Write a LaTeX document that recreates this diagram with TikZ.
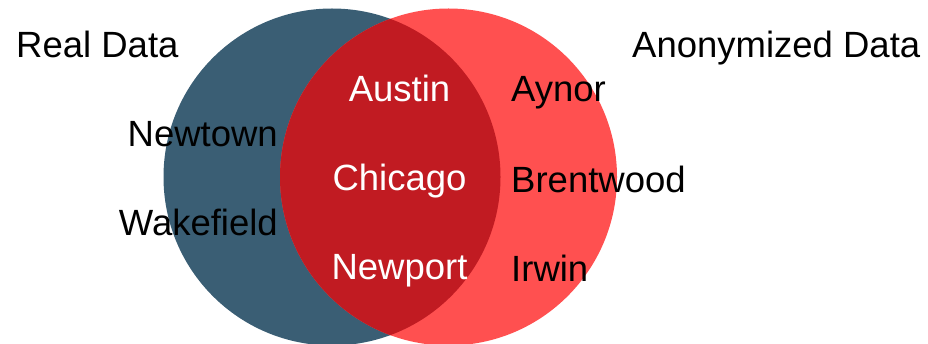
\documentclass[tikz,border=0pt]{standalone}
\usepackage{fontspec}
\setmainfont{Liberation Sans}
\definecolor{realc}{HTML}{3A5E74}
\definecolor{anonc}{HTML}{FF5050}
\definecolor{bothc}{HTML}{C11B22}
\begin{document}
\begin{tikzpicture}[x=1pt,y=-1pt,
  lbl/.style={font=\fontsize{36.5}{40}\selectfont, inner sep=0pt, anchor=base},
  wlbl/.style={lbl, text=white}]
\useasboundingbox (0,0) rectangle (928,344);
\coordinate (lc) at (332,177);
\coordinate (rc) at (448.5,177);
\fill[realc] (lc) circle[radius=168.5];
\fill[anonc] (rc) circle[radius=168.5];
\begin{scope}
  \clip (lc) circle[radius=168.5];
  \fill[bothc] (rc) circle[radius=168.5];
\end{scope}
\node[lbl, anchor=base west] (real) at (16,58) {Real Data};
\node[lbl, anchor=base west] (anon) at (632,58) {Anonymized Data};
\node[lbl, anchor=base east] (newtown) at (278,147) {Newtown};
\node[lbl, anchor=base east] (wake) at (278,235.5) {Wakefield};
\node[wlbl] (austin) at (399.5,102) {Austin};
\node[wlbl] (chicago) at (399.5,191) {Chicago};
\node[wlbl] (newport) at (399.5,280) {Newport};
\node[lbl, anchor=base west] (aynor) at (511,102) {Aynor};
\node[lbl, anchor=base west] (brent) at (511,192.5) {Brentwood};
\node[lbl, anchor=base west] (irwin) at (511,282) {Irwin};
\end{tikzpicture}
\end{document}
